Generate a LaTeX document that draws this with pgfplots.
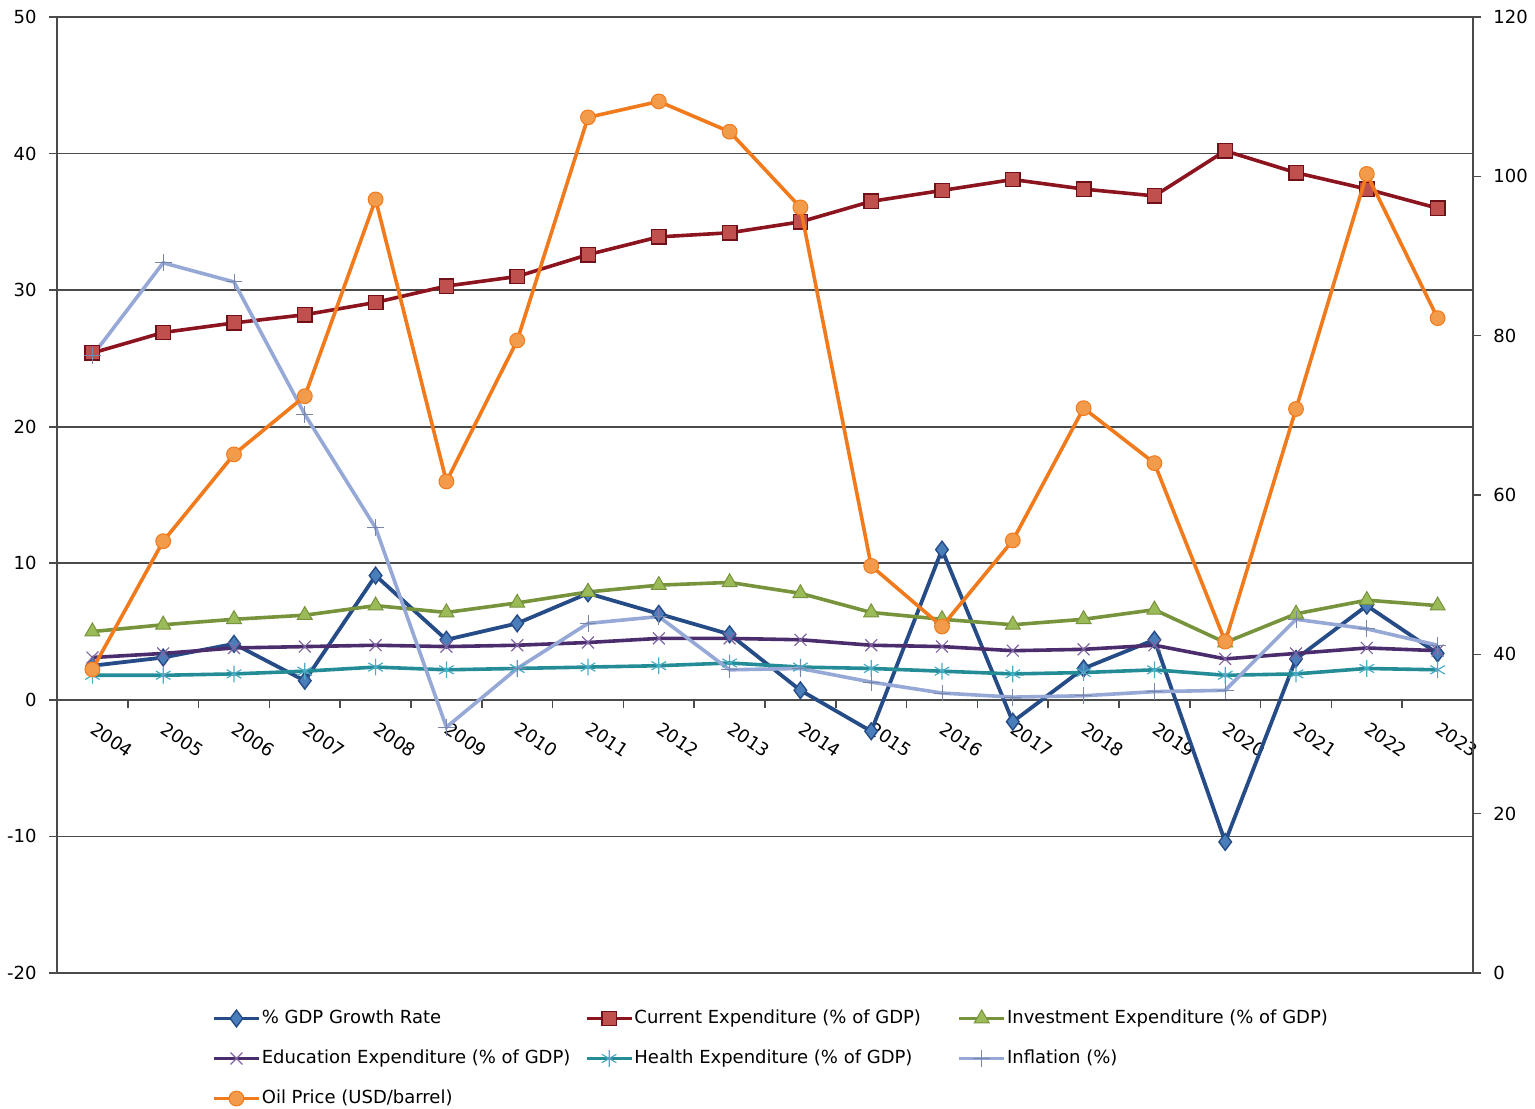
\documentclass[border=0pt]{standalone}
\usepackage{fontspec}
\setmainfont{DejaVu Sans}
\usepackage{pgfplots}
\usepackage{pgfplotstable}
\pgfplotsset{compat=1.18}

\definecolor{gdpL}{RGB}{38,76,135}
\definecolor{gdpM}{RGB}{74,126,187}
\definecolor{curL}{RGB}{140,20,30}
\definecolor{curM}{RGB}{192,80,77}
\definecolor{invL}{RGB}{119,147,60}
\definecolor{invM}{RGB}{155,187,89}
\definecolor{eduL}{RGB}{75,45,110}
\definecolor{eduM}{RGB}{128,100,162}
\definecolor{heaL}{RGB}{35,140,150}
\definecolor{heaM}{RGB}{75,172,198}
\definecolor{infL}{RGB}{150,168,214}
\definecolor{oilL}{RGB}{240,122,28}
\definecolor{oilM}{RGB}{242,155,75}
\definecolor{gridc}{RGB}{75,75,75}

\pgfplotstableread{
x gdp cur inv edu hea inf oil
0 2.5 25.4 5.0 3.1 1.8 25.2 38.1
1 3.1 26.9 5.5 3.4 1.8 32.0 54.2
2 4.1 27.6 5.9 3.8 1.9 30.6 65.1
3 1.4 28.2 6.2 3.9 2.1 20.9 72.4
4 9.1 29.1 6.9 4.0 2.4 12.6 97.1
5 4.4 30.3 6.4 3.9 2.2 -2.0 61.7
6 5.6 31.0 7.1 4.0 2.3 2.3 79.4
7 7.8 32.6 7.9 4.2 2.4 5.6 107.4
8 6.3 33.9 8.4 4.5 2.5 6.1 109.4
9 4.8 34.2 8.6 4.5 2.7 2.2 105.6
10 0.7 35.0 7.8 4.4 2.4 2.3 96.1
11 -2.3 36.5 6.4 4.0 2.3 1.3 51.1
12 11.0 37.3 5.9 3.9 2.1 0.5 43.5
13 -1.6 38.1 5.5 3.6 1.9 0.2 54.3
14 2.3 37.4 5.9 3.7 2.0 0.3 70.9
15 4.4 36.9 6.6 4.0 2.2 0.6 64.0
16 -10.4 40.2 4.2 3.0 1.8 0.7 41.6
17 3.0 38.6 6.3 3.4 1.9 5.9 70.8
18 6.9 37.4 7.3 3.8 2.3 5.2 100.3
19 3.4 36.0 6.9 3.6 2.2 4.0 82.2
}\data

\pgfplotsset{
  sgdp/.style={color=gdpL, line width=1.9pt, mark=diamond*, mark size=4.2pt,
    mark options={solid, fill=gdpM, draw=gdpL, line width=0.7pt}},
  scur/.style={color=curL, line width=1.8pt, mark=square*, mark size=3.6pt,
    mark options={solid, fill=curM, draw=curL!80!black, line width=0.7pt}},
  sinv/.style={color=invL, line width=1.8pt, mark=triangle*, mark size=4.3pt,
    mark options={solid, fill=invM, draw=invL, line width=0.5pt}},
  sedu/.style={color=eduL, line width=1.8pt, mark=x, mark size=4.2pt,
    mark options={solid, draw=eduM, line width=0.6pt}},
  shea/.style={color=heaL, line width=1.8pt, mark=asterisk, mark size=4.2pt,
    mark options={solid, draw=heaM, line width=0.6pt}},
  sinf/.style={color=infL, line width=1.8pt, mark=+, mark size=4.2pt,
    mark options={solid, draw=infL!80!black, line width=0.5pt}},
  soil/.style={color=oilL, line width=1.8pt, mark=*, mark size=3.7pt,
    mark options={solid, fill=oilM, draw=oilL, line width=0.5pt}},
}

\begin{document}
\begin{tikzpicture}
\path[use as bounding box] (-28.5pt,-67.5pt) rectangle (739pt,486.5pt);
\begin{axis}[
  at={(0,0)}, anchor=south west,
  scale only axis, width=708pt, height=478pt,
  xmin=-0.5, xmax=19.5, ymin=-20, ymax=50,
  axis x line*=middle, axis y line*=left,
  axis line style={gridc, line width=0.8pt},
  ytick={-20,-10,...,50},
  ymajorgrids, grid style={gridc, line width=0.8pt},
  xtick={0,...,19},
  xticklabels={2004,2005,2006,2007,2008,2009,2010,2011,2012,2013,2014,2015,2016,2017,2018,2019,2020,2021,2022,2023},
  minor xtick={0.5,1.5,...,18.5},
  tick align=outside,
  major x tick style={draw=none},
  minor tick length=4pt, major tick length=4pt,
  tick style={gridc, line width=0.8pt},
  /pgf/number format/assume math mode=true,
  tick label style={font=\fontsize{9}{11}\selectfont},
  xticklabel style={xshift=2pt, yshift=-6.5pt, rotate=-34, anchor=north west, inner sep=0pt},
  yticklabel style={inner sep=0pt, xshift=-6pt},
  clip=false,
]
\addplot[sgdp] table[x=x,y=gdp]{\data};
\addplot[scur] table[x=x,y=cur]{\data};
\addplot[sinv] table[x=x,y=inv]{\data};
\addplot[sedu] table[x=x,y=edu]{\data};
\addplot[shea] table[x=x,y=hea]{\data};
\addplot[sinf] table[x=x,y=inf]{\data};
\end{axis}
\begin{axis}[
  at={(0,0)}, anchor=south west,
  scale only axis, width=708pt, height=478pt,
  xmin=-0.5, xmax=19.5, ymin=0, ymax=120,
  axis x line=none, axis y line*=right,
  axis line style={gridc, line width=0.8pt},
  ytick={0,20,...,120},
  tick align=outside, major tick length=4pt,
  tick style={gridc, line width=0.8pt},
  /pgf/number format/assume math mode=true,
  tick label style={font=\fontsize{9}{11}\selectfont},
  yticklabel style={inner sep=0pt, xshift=6pt},
  clip=false,
  legend columns=3,
  legend image code/.code={\draw[mark repeat=2,mark phase=2] plot coordinates {(0pt,0pt) (11.25pt,0pt) (22.5pt,0pt)};},
  legend style={at={(axis description cs:0.1095,-0.0380)}, anchor=north west,
    draw=none, fill=none, inner sep=0pt, outer sep=0pt, row sep=10.8pt,
    font=\fontsize{9}{11}\selectfont,
    cells={anchor=west},
    nodes={inner sep=0pt, text height=7pt, text depth=2.2pt},
    /tikz/every odd column/.append style={column sep=0.5pt},
    /tikz/every even column/.append style={column sep=1.5pt}},
]
\addlegendimage{sgdp}\addlegendentry{\makebox[160pt][l]{\% GDP Growth Rate}}
\addlegendimage{scur}\addlegendentry{\makebox[160pt][l]{Current Expenditure (\% of GDP)}}
\addlegendimage{sinv}\addlegendentry{\makebox[160pt][l]{Investment Expenditure (\% of GDP)}}
\addlegendimage{sedu}\addlegendentry{\makebox[160pt][l]{Education Expenditure (\% of GDP)}}
\addlegendimage{shea}\addlegendentry{\makebox[160pt][l]{Health Expenditure (\% of GDP)}}
\addlegendimage{sinf}\addlegendentry{\makebox[160pt][l]{Inflation (\%)}}
\addplot[soil] table[x=x,y=oil]{\data};
\addlegendentry{\makebox[160pt][l]{Oil Price (USD/barrel)}}
\end{axis}
\end{tikzpicture}
\end{document}
